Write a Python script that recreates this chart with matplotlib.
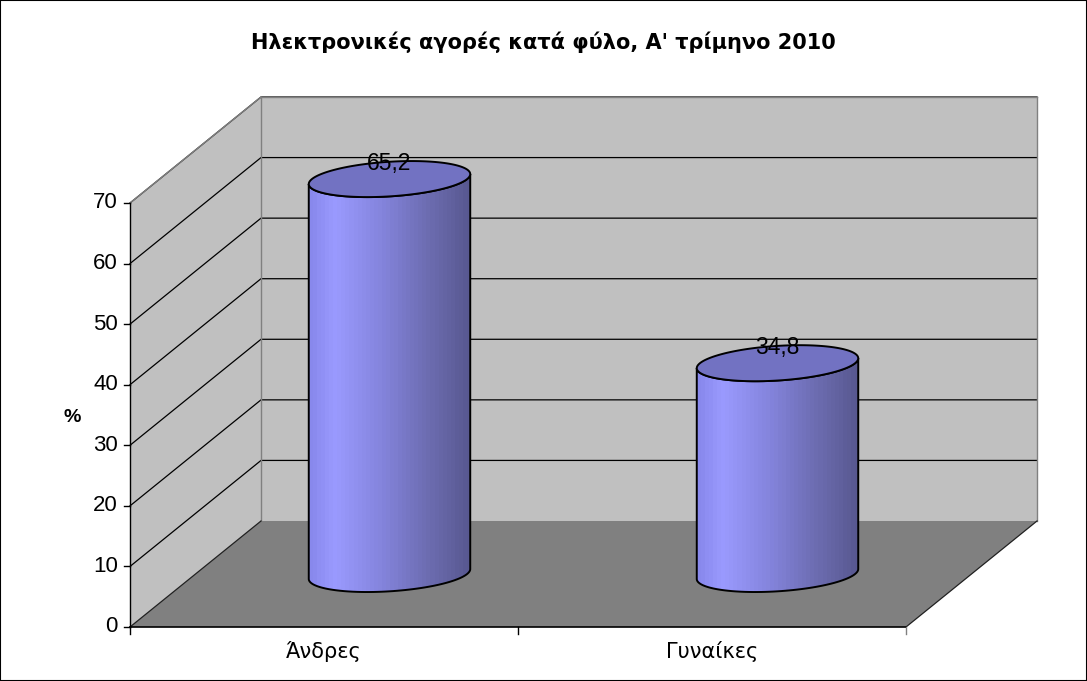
import numpy as np
import matplotlib
matplotlib.use("Agg")
import matplotlib.pyplot as plt
from matplotlib.patches import Polygon
from matplotlib.colors import LinearSegmentedColormap

plt.rcParams['font.family'] = ['Liberation Sans', 'DejaVu Sans']

# ---- data ----
categories = ["Άνδρες", "Γυναίκες"]
values = [65.2, 34.8]
value_labels = ["65,2", "34,8"]
y_ticks = [0, 10, 20, 30, 40, 50, 60, 70]
title = "Ηλεκτρονικές αγορές κατά φύλο, Α' τρίμηνο 2010"
y_label = "%"

# ---- figure / scales ----
W, H, DPI = 1087, 681, 100
fig = plt.figure(figsize=(W / DPI, H / DPI), dpi=DPI)
ax = fig.add_axes([0, 0, 1, 1])
ax.set_axis_off()

# pixel layout of the front plane of the plot box
px_left, px_right = 130, 906        # category axis ends
px_zero, px_top = 627, 203          # value 0 and value 70 rows
vmax = 70
ncat = len(categories)
sx = (px_right - px_left) / ncat    # px per category unit
sy = (px_zero - px_top) / vmax      # px per value unit
ax.set_xlim(-px_left / sx, (W - px_left) / sx)
ax.set_ylim(-(H - px_zero) / sy, px_zero / sy)

# oblique depth vector (full depth), in data units
DX = 131 / sx
DY = 106 / sy


def P(x, v, d=0.0):
    return (x + d * DX, v + d * DY)


wall = "#c0c0c0"
floor = "#808080"
edge_gray = "#808080"

# side wall
ax.add_patch(Polygon([P(0, 0), P(0, vmax), P(0, vmax, 1), P(0, 0, 1)],
                     closed=True, fc=wall, ec="none", zorder=1))
# back wall
ax.add_patch(Polygon([P(0, 0, 1), P(0, vmax, 1), P(ncat, vmax, 1), P(ncat, 0, 1)],
                     closed=True, fc=wall, ec="none", zorder=1))
# floor
ax.add_patch(Polygon([P(0, 0), P(ncat, 0), P(ncat, 0, 1), P(0, 0, 1)],
                     closed=True, fc=floor, ec="none", zorder=1))

# gridlines on side and back walls
for t in y_ticks[1:]:
    xs, ys = zip(P(0, t), P(0, t, 1), P(ncat, t, 1))
    ax.plot(xs, ys, color="black", lw=0.9, zorder=2)

# wall outlines
for a, b in [(P(0, vmax), P(0, vmax, 1)), (P(0, vmax, 1), P(ncat, vmax, 1)),
             (P(ncat, vmax, 1), P(ncat, 0, 1)), (P(0, vmax, 1), P(0, 0, 1))]:
    ax.plot([a[0], b[0]], [a[1], b[1]], color=edge_gray, lw=1.0, zorder=2)
for a, b in [(P(0, 0), P(0, 0, 1)), (P(ncat, 0), P(ncat, 0, 1))]:
    ax.plot([a[0], b[0]], [a[1], b[1]], color="#202020", lw=0.9, zorder=2)

# ---- cylinders ----
bar_w = 0.4            # diameter along the category axis
depth_frac = 0.34      # diameter along the depth axis
a = bar_w / 2
bx = depth_frac / 2 * DX
by = depth_frac / 2 * DY
t0 = np.arctan2(bx, a)

cyl_cmap = LinearSegmentedColormap.from_list(
    "cyl", [(0.0, "#8888ec"), (0.15, "#9a9aff"), (0.45, "#8484dc"),
            (0.75, "#6c6cb0"), (1.0, "#585890")])
top_color = "#7272c2"


def ellipse(cx, cy, t):
    return cx + a * np.cos(t) + bx * np.sin(t), cy + by * np.sin(t)


for i, v in enumerate(values):
    cx, cy0 = P(i + 0.5, 0, 0.5)
    cy1 = cy0 + v
    tf = np.linspace(t0 + np.pi, t0 + 2 * np.pi, 120)   # front half
    bxs, bys = ellipse(cx, cy0, tf)
    txs, tys = ellipse(cx, cy1, tf[::-1])
    body = np.column_stack([np.r_[bxs, txs], np.r_[bys, tys]])
    poly = Polygon(body, closed=True, fc="none", ec="black", lw=1.4, zorder=5)
    ax.add_patch(poly)
    xl, xr = body[:, 0].min(), body[:, 0].max()
    grad = cyl_cmap(np.linspace(0, 1, 40))[None, :, :3]
    im = ax.imshow(grad, extent=(xl, xr, body[:, 1].min(), body[:, 1].max()),
                   aspect="auto", interpolation="nearest", zorder=4)
    im.set_clip_path(Polygon(body, closed=True, transform=ax.transData))
    ta = np.linspace(0, 2 * np.pi, 200)
    exs, eys = ellipse(cx, cy1, ta)
    ax.add_patch(Polygon(np.column_stack([exs, eys]), closed=True,
                         fc=top_color, ec="black", lw=1.4, zorder=6))
    ax.text(cx, cy1 + 2.6, value_labels[i], ha="center", va="center",
            fontsize=16.5, color="black", zorder=7)

# ---- axes lines, ticks, labels ----
ax.plot([0, 0], [0, vmax], color="black", lw=1.0, zorder=8)
ax.plot([0, ncat], [0, 0], color="black", lw=1.2, zorder=8)
tick_dx = 6 / sx
tick_dy = 7 / sy
for t in y_ticks:
    ax.plot([-tick_dx, 0], [t, t], color="black", lw=1.0, zorder=8)
    ax.text(-tick_dx - 6 / sx, t, str(t), ha="right", va="center",
            fontsize=16, color="black")
for k in range(ncat + 1):
    ax.plot([k, k], [0, -tick_dy], color=edge_gray if k == ncat else "black",
            lw=1.0, zorder=8)
for i, c in enumerate(categories):
    ax.text(i + 0.5, -31 / sy, c, ha="center", va="baseline", fontsize=15,
            color="black", family=["DejaVu Sans"])

fig.text(72 / W, 1 - 417 / H, y_label, ha="center", va="center",
         fontsize=14, fontweight="bold")
fig.text(0.5, 1 - 49 / H, title, ha="center", va="baseline",
         fontsize=15, fontweight="bold", family=["DejaVu Sans"])

# chart frame
ax.add_patch(plt.Rectangle((0, 0), 1, 1, transform=fig.transFigure, fill=False,
                           ec="black", lw=1.5, zorder=10))

fig.savefig("out.png", dpi=DPI)
